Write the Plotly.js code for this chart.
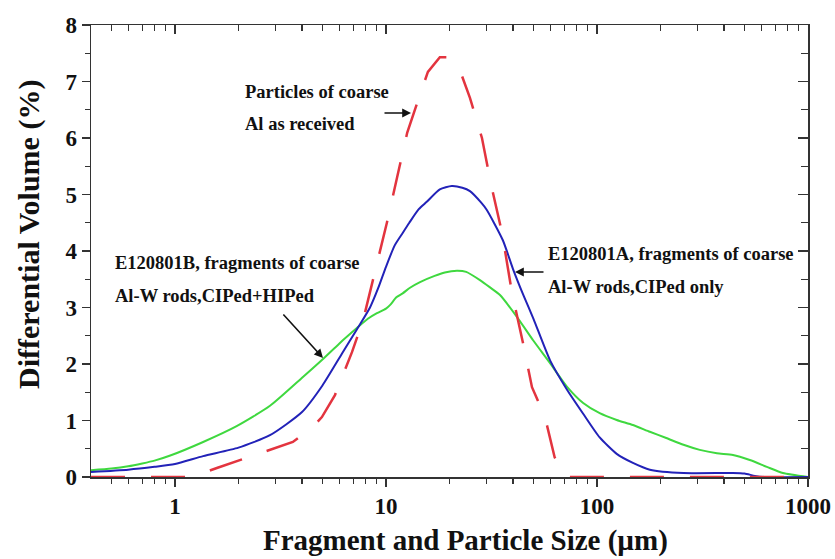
<!DOCTYPE html>
<html>
<head>
<meta charset="utf-8">
<script src="https://cdn.plot.ly/plotly-3.0.1.min.js"></script>
<style>html,body{margin:0;padding:0;background:#fff;}#chart{width:835px;height:559px;}</style>
</head>
<body>
<div id="chart"></div>
<script>
// ---- data ----
const sizeAl = [0.4, 1.2, 1.58, 2.19, 2.82, 3.62, 4.5, 4.97, 5.73, 6.23, 6.9, 7.8, 8.7, 10.1, 11.3, 12.6, 14.2, 15.8, 18.0, 19.7, 22.4, 25.0, 28.5, 31.5, 35.5, 39.5, 44.6, 49.2, 56.7, 63.0, 70.5, 100, 1000];
const volAl  = [0, 0, 0.16, 0.34, 0.48, 0.62, 0.89, 1.06, 1.45, 1.8, 2.21, 2.78, 3.5, 4.5, 5.31, 6.09, 6.67, 7.17, 7.43, 7.43, 7.2, 6.71, 6.0, 5.17, 4.32, 3.27, 2.37, 1.59, 1.06, 0.35, 0, 0, 0];

const sizeA = [0.4, 0.6, 0.8, 1.0, 1.36, 2.0, 2.82, 4.0, 5.0, 6.2, 7.3, 8.4, 9.2, 10.0, 11.0, 12.0, 12.9, 14.3, 15.6, 18.0, 20.5, 23.0, 25.0, 28.2, 30.0, 35.8, 40.0, 45.0, 50.0, 60.0, 72.0, 86.0, 103, 124, 148, 178, 257, 441, 500, 560, 620, 1000];
const volA  = [0.09, 0.13, 0.18, 0.23, 0.37, 0.52, 0.74, 1.15, 1.62, 2.19, 2.62, 3.0, 3.35, 3.72, 4.1, 4.32, 4.5, 4.74, 4.87, 5.09, 5.15, 5.12, 5.06, 4.86, 4.73, 4.19, 3.68, 3.2, 2.8, 2.06, 1.55, 1.12, 0.7, 0.41, 0.25, 0.13, 0.07, 0.07, 0.06, 0.02, 0, 0];

const sizeB = [0.4, 0.5, 0.6, 0.7, 0.8, 0.95, 1.36, 1.96, 2.82, 4.04, 5.0, 6.0, 7.3, 8.2, 9.06, 10.0, 10.5, 11.2, 12.0, 13.0, 14.5, 17.0, 19.0, 21.7, 24.0, 28.0, 31.0, 34.7, 41.8, 49.8, 59.8, 72.0, 86.0, 103, 124, 148, 178, 213, 257, 307, 370, 441, 530, 638, 760, 1000];
const volB  = [0.12, 0.15, 0.19, 0.24, 0.29, 0.38, 0.62, 0.9, 1.26, 1.77, 2.08, 2.36, 2.64, 2.8, 2.9, 2.98, 3.05, 3.18, 3.25, 3.35, 3.45, 3.56, 3.62, 3.65, 3.63, 3.48, 3.36, 3.22, 2.83, 2.42, 2.02, 1.6, 1.31, 1.13, 1.01, 0.92, 0.8, 0.69, 0.57, 0.48, 0.42, 0.39, 0.3, 0.18, 0.07, 0.0];

const xTickVals = [1, 10, 100, 1000];
const xTickText = ['1', '10', '100', '1000'];
const xTitle = 'Fragment and Particle Size (\u00B5m)';
const yTitle = 'Differential Volume (%)';
const labelAl = ['Particles of coarse', 'Al as received'];
const labelB = ['E120801B, fragments of coarse', 'Al-W rods,CIPed+HIPed'];
const labelA = ['E120801A, fragments of coarse', 'Al-W rods,CIPed only'];

// ---- styling / layout ----
const FONT = '"Liberation Serif", "Times New Roman", serif';
const AX = '#333333';
const minorVals = [];
[0.1, 1, 10, 100].forEach(d => { for (let k = 2; k <= 9; k++) { const v = k * d; if (v > 0.4 && v < 1000) minorVals.push(v); } });

const traces = [
  {x: sizeB, y: volB, mode: 'lines', line: {color: '#3fd83f', width: 2, shape: 'spline', smoothing: 0.6}, hoverinfo: 'skip'},
  {x: sizeA, y: volA, mode: 'lines', line: {color: '#2222b8', width: 2, shape: 'spline', smoothing: 0.6}, hoverinfo: 'skip'},
  {x: sizeAl, y: volAl, mode: 'lines', line: {color: '#e3343f', width: 2.5, dash: '34px,26px'}, hoverinfo: 'skip'},
  {x: [], y: [], xaxis: 'x2', yaxis: 'y', hoverinfo: 'skip'},
  {x: [], y: [], xaxis: 'x', yaxis: 'y2', hoverinfo: 'skip'}
];

const L = 91, R = 808, T = 25, B = 477;
function P(px, py) { return {x: (px - L) / (R - L), y: (B - py) / (B - T)}; }
function txt(t, px, py, extra) {
  const p = P(px, py);
  return Object.assign({xref: 'paper', yref: 'paper', x: p.x, y: p.y, text: t, showarrow: false,
    xanchor: 'left', yanchor: 'middle', font: {family: FONT, size: 18.5, color: '#111', weight: 'bold'}}, extra || {});
}
function arrow(hx, hy, tx, ty) {
  const p = P(hx, hy);
  return {xref: 'paper', yref: 'paper', x: p.x, y: p.y, text: '', showarrow: true,
    ax: tx - hx, ay: ty - hy, arrowhead: 2, arrowsize: 1.1, arrowwidth: 1.6, arrowcolor: '#111', standoff: 0, startstandoff: 0};
}

const annotations = [
  txt(labelAl[0], 243, 91.5), txt(labelAl[1], 243, 123.5),
  txt(labelB[0], 113, 262.5), txt(labelB[1], 113, 296),
  txt(labelA[0], 546, 254), txt(labelA[1], 546, 286.5),
  arrow(411, 113, 383, 113),
  arrow(323, 358, 282, 313),
  arrow(515, 272, 545, 272),
  txt(xTitle, 465, 540, {xanchor: 'center', font: {family: FONT, size: 29, color: '#111', weight: 'bold'}}),
  txt(yTitle, 29, 235, {xanchor: 'center', textangle: -90, font: {family: FONT, size: 30, color: '#111', weight: 'bold'}})
];

const tickFont = {family: FONT, size: 23, color: '#111', weight: 'bold'};
const xr = [Math.log10(0.4), 3];
const layout = {
  width: 835, height: 559,
  margin: {l: L, r: 835 - R, t: T, b: 559 - B},
  paper_bgcolor: '#fff', plot_bgcolor: '#fff',
  showlegend: false,
  annotations: annotations,
  xaxis: {type: 'log', range: xr, tickmode: 'array', tickvals: xTickVals, ticktext: xTickText,
    ticks: 'outside', ticklen: 8, tickwidth: 1.5, tickcolor: AX, showline: true, linecolor: AX, linewidth: 1.5,
    showgrid: false, zeroline: false, tickfont: tickFont, fixedrange: true,
    minor: {tickmode: 'array', tickvals: minorVals, ticks: 'outside', ticklen: 5, tickwidth: 1.3, tickcolor: AX, showgrid: false}},
  xaxis2: {type: 'log', range: xr, overlaying: 'x', side: 'top', tickmode: 'array', tickvals: xTickVals,
    showticklabels: false, ticks: 'inside', ticklen: 9, tickwidth: 1.5, tickcolor: AX, showline: true, linecolor: AX, linewidth: 1.5,
    showgrid: false, zeroline: false, fixedrange: true,
    minor: {tickmode: 'array', tickvals: minorVals, ticks: 'inside', ticklen: 6, tickwidth: 1.3, tickcolor: AX, showgrid: false}},
  yaxis: {range: [0, 8], tickmode: 'linear', tick0: 0, dtick: 1, ticks: 'outside', ticklen: 8, tickwidth: 1.5, tickcolor: AX,
    showline: true, linecolor: AX, linewidth: 1.5, showgrid: false, zeroline: false, tickfont: tickFont, fixedrange: true,
    minor: {dtick: 0.5, ticks: 'outside', ticklen: 5, tickwidth: 1.3, tickcolor: AX, showgrid: false}},
  yaxis2: {range: [0, 8], overlaying: 'y', side: 'right', tickmode: 'linear', tick0: 0, dtick: 1, ticks: 'inside', ticklen: 10,
    tickwidth: 1.5, tickcolor: AX, showline: true, linecolor: AX, linewidth: 1.5, showgrid: false, zeroline: false,
    showticklabels: false, fixedrange: true,
    minor: {dtick: 0.5, ticks: 'inside', ticklen: 7, tickwidth: 1.3, tickcolor: AX, showgrid: false}}
};

Plotly.newPlot('chart', traces, layout, {staticPlot: true, displayModeBar: false});
</script>
</body>
</html>
